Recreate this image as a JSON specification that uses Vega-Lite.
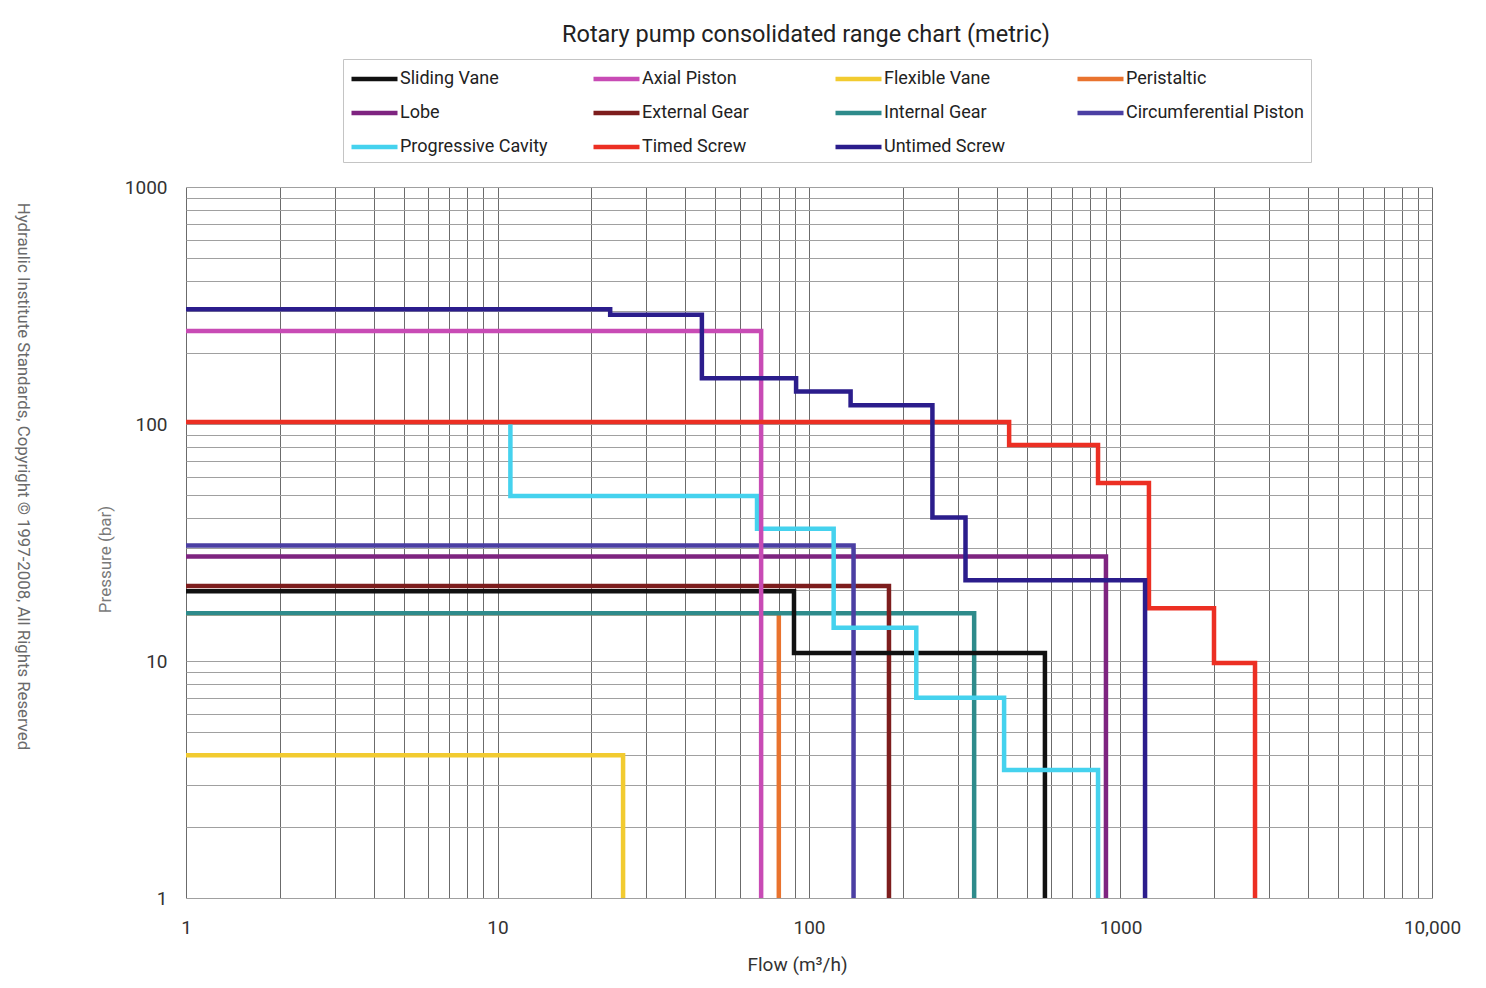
{
  "$schema": "https://vega.github.io/schema/vega-lite/v6.json",
  "width": 1246,
  "height": 711,
  "autosize": {"type": "none"},
  "padding": {"left": 186, "top": 187, "right": 54, "bottom": 90},
  "background": "white",
  "title": {
    "text": "Rotary pump consolidated range chart (metric)",
    "font": "Roboto",
    "fontSize": 23.5,
    "fontWeight": "normal",
    "color": "#222222",
    "anchor": "middle",
    "frame": "group",
    "offset": 12,
    "dx": -3
  },
  "data": {
    "values": [
      {"pump": "Peristaltic", "i": 0, "flow": 1, "pressure": 15.9},
      {"pump": "Peristaltic", "i": 1, "flow": 80, "pressure": 15.9},
      {"pump": "Peristaltic", "i": 2, "flow": 80, "pressure": 1},
      {"pump": "Flexible Vane", "i": 0, "flow": 1, "pressure": 4.0},
      {"pump": "Flexible Vane", "i": 1, "flow": 25.3, "pressure": 4.0},
      {"pump": "Flexible Vane", "i": 2, "flow": 25.3, "pressure": 1},
      {"pump": "Internal Gear", "i": 0, "flow": 1, "pressure": 15.9},
      {"pump": "Internal Gear", "i": 1, "flow": 339, "pressure": 15.9},
      {"pump": "Internal Gear", "i": 2, "flow": 339, "pressure": 1},
      {"pump": "External Gear", "i": 0, "flow": 1, "pressure": 20.7},
      {"pump": "External Gear", "i": 1, "flow": 180.6, "pressure": 20.7},
      {"pump": "External Gear", "i": 2, "flow": 180.6, "pressure": 1},
      {"pump": "Sliding Vane", "i": 0, "flow": 1, "pressure": 19.7},
      {"pump": "Sliding Vane", "i": 1, "flow": 89.5, "pressure": 19.7},
      {"pump": "Sliding Vane", "i": 2, "flow": 89.5, "pressure": 10.8},
      {"pump": "Sliding Vane", "i": 3, "flow": 572, "pressure": 10.8},
      {"pump": "Sliding Vane", "i": 4, "flow": 572, "pressure": 1},
      {"pump": "Lobe", "i": 0, "flow": 1, "pressure": 27.6},
      {"pump": "Lobe", "i": 1, "flow": 898, "pressure": 27.6},
      {"pump": "Lobe", "i": 2, "flow": 898, "pressure": 1},
      {"pump": "Circumferential Piston", "i": 0, "flow": 1, "pressure": 30.7},
      {"pump": "Circumferential Piston", "i": 1, "flow": 139, "pressure": 30.7},
      {"pump": "Circumferential Piston", "i": 2, "flow": 139, "pressure": 1},
      {"pump": "Progressive Cavity", "i": 0, "flow": 11, "pressure": 100},
      {"pump": "Progressive Cavity", "i": 1, "flow": 11, "pressure": 49.7},
      {"pump": "Progressive Cavity", "i": 2, "flow": 68.1, "pressure": 49.7},
      {"pump": "Progressive Cavity", "i": 3, "flow": 68.1, "pressure": 36.1},
      {"pump": "Progressive Cavity", "i": 4, "flow": 120, "pressure": 36.1},
      {"pump": "Progressive Cavity", "i": 5, "flow": 120, "pressure": 13.8},
      {"pump": "Progressive Cavity", "i": 6, "flow": 221, "pressure": 13.8},
      {"pump": "Progressive Cavity", "i": 7, "flow": 221, "pressure": 7.0},
      {"pump": "Progressive Cavity", "i": 8, "flow": 423, "pressure": 7.0},
      {"pump": "Progressive Cavity", "i": 9, "flow": 423, "pressure": 3.47},
      {"pump": "Progressive Cavity", "i": 10, "flow": 847, "pressure": 3.47},
      {"pump": "Progressive Cavity", "i": 11, "flow": 847, "pressure": 1},
      {"pump": "Axial Piston", "i": 0, "flow": 1, "pressure": 247},
      {"pump": "Axial Piston", "i": 1, "flow": 70.2, "pressure": 247},
      {"pump": "Axial Piston", "i": 2, "flow": 70.2, "pressure": 1},
      {"pump": "Timed Screw", "i": 0, "flow": 1, "pressure": 102},
      {"pump": "Timed Screw", "i": 1, "flow": 439, "pressure": 102},
      {"pump": "Timed Screw", "i": 2, "flow": 439, "pressure": 81.5},
      {"pump": "Timed Screw", "i": 3, "flow": 847, "pressure": 81.5},
      {"pump": "Timed Screw", "i": 4, "flow": 847, "pressure": 56.4},
      {"pump": "Timed Screw", "i": 5, "flow": 1234, "pressure": 56.4},
      {"pump": "Timed Screw", "i": 6, "flow": 1234, "pressure": 16.7},
      {"pump": "Timed Screw", "i": 7, "flow": 1996, "pressure": 16.7},
      {"pump": "Timed Screw", "i": 8, "flow": 1996, "pressure": 9.8},
      {"pump": "Timed Screw", "i": 9, "flow": 2703, "pressure": 9.8},
      {"pump": "Timed Screw", "i": 10, "flow": 2703, "pressure": 1},
      {"pump": "Untimed Screw", "i": 0, "flow": 1, "pressure": 305},
      {"pump": "Untimed Screw", "i": 1, "flow": 23, "pressure": 305},
      {"pump": "Untimed Screw", "i": 2, "flow": 23, "pressure": 289},
      {"pump": "Untimed Screw", "i": 3, "flow": 45.3, "pressure": 289},
      {"pump": "Untimed Screw", "i": 4, "flow": 45.3, "pressure": 156},
      {"pump": "Untimed Screw", "i": 5, "flow": 90.9, "pressure": 156},
      {"pump": "Untimed Screw", "i": 6, "flow": 90.9, "pressure": 137},
      {"pump": "Untimed Screw", "i": 7, "flow": 136, "pressure": 137},
      {"pump": "Untimed Screw", "i": 8, "flow": 136, "pressure": 120},
      {"pump": "Untimed Screw", "i": 9, "flow": 249, "pressure": 120},
      {"pump": "Untimed Screw", "i": 10, "flow": 249, "pressure": 40.3},
      {"pump": "Untimed Screw", "i": 11, "flow": 318, "pressure": 40.3},
      {"pump": "Untimed Screw", "i": 12, "flow": 318, "pressure": 21.9},
      {"pump": "Untimed Screw", "i": 13, "flow": 1199, "pressure": 21.9},
      {"pump": "Untimed Screw", "i": 14, "flow": 1199, "pressure": 1}
    ]
  },
  "encoding": {
    "x": {
      "field": "flow", "type": "quantitative",
      "scale": {"type": "log", "domain": [1, 10000]},
      "axis": {
        "title": "Flow (m³/h)",
        "titleFont": "Roboto",
        "titleFontSize": 19,
        "titleFontWeight": "normal",
        "titleColor": "#333333",
        "titlePadding": 18,
        "titleX": 611,
        "titleAlign": "center",
        "values": [1,2,3,4,5,6,7,8,9,10,20,30,40,50,60,70,80,90,100,200,300,400,500,600,700,800,900,1000,2000,3000,4000,5000,6000,7000,8000,9000,10000],
        "labelExpr": "datum.value == 1 ? '1' : datum.value == 10 ? '10' : datum.value == 100 ? '100' : datum.value == 1000 ? '1000' : datum.value == 10000 ? '10,000' : ''",
        "labelFont": "Roboto",
        "labelFontSize": 19,
        "labelColor": "#333333",
        "labelPadding": 20,
        "labelFlush": false,
        "labelOverlap": false,
        "ticks": false,
        "domain": false,
        "grid": true,
        "gridColor": "#5a5a5a",
        "gridWidth": 0.9
      }
    },
    "order": {"field": "i", "type": "quantitative"}
  },
  "layer": [
    {
      "mark": {"type": "line", "opacity": 0},
      "encoding": {
        "y": {
          "field": "pressure", "type": "quantitative",
          "scale": {"type": "log", "domain": [1, 1000]},
          "axis": {
            "orient": "left",
            "title": "Hydraulic Institute Standards, Copyright © 1997-2008, All Rights Reserved",
            "titleAngle": 90,
            "titleX": -164,
            "titleY": 289,
            "titleAlign": "center",
            "titleBaseline": "middle",
            "titleFont": "Roboto",
            "titleFontSize": 16.8,
            "titleFontWeight": "normal",
            "titleColor": "#6a6a6a",
            "labels": false,
            "ticks": false,
            "domain": false,
            "grid": false
          }
        },
        "detail": {"field": "pump", "type": "nominal"}
      }
    },
    {
      "mark": {"type": "line", "strokeCap": "butt", "strokeJoin": "miter", "clip": true},
      "encoding": {
        "y": {
          "field": "pressure", "type": "quantitative",
          "scale": {"type": "log", "domain": [1, 1000]},
          "axis": {
            "orient": "left",
            "title": "Pressure (bar)",
            "titleFont": "Roboto",
            "titleFontSize": 17,
            "titleFontWeight": "normal",
            "titleColor": "#7a7a7a",
            "titleAngle": -90,
            "titleAlign": "center",
            "titleBaseline": "middle",
            "titleX": -81,
            "titleY": 372,
            "values": [1,2,3,4,5,6,7,8,9,10,20,30,40,50,60,70,80,90,100,200,300,400,500,600,700,800,900,1000],
            "labelExpr": "datum.value == 1 ? '1' : datum.value == 10 ? '10' : datum.value == 100 ? '100' : datum.value == 1000 ? '1000' : ''",
            "labelFont": "Roboto",
            "labelFontSize": 19,
            "labelColor": "#333333",
            "labelPadding": 19,
            "labelFlush": false,
            "labelOverlap": false,
            "ticks": false,
            "domain": false,
            "grid": true,
            "gridColor": "#a0a0a0",
            "gridWidth": 1
          }
        },
        "color": {
          "field": "pump", "type": "nominal",
          "scale": {
            "domain": ["Sliding Vane", "Axial Piston", "Flexible Vane", "Peristaltic", "Lobe", "External Gear", "Internal Gear", "Circumferential Piston", "Progressive Cavity", "Timed Screw", "Untimed Screw"],
            "range": ["#111111", "#c84bb5", "#f2cb30", "#e9732e", "#7e2480", "#7d1d1d", "#2e8b8b", "#4b3fa3", "#45d2ee", "#ec2f23", "#2b1d8c"]
          },
          "legend": {
            "orient": "none",
            "legendX": 157,
            "legendY": -128,
            "columns": 4,
            "direction": "horizontal",
            "title": null,
            "symbolType": "M-1,0H3",
            "symbolSize": 529,
            "symbolStrokeWidth": 5,
            "labelFont": "Roboto",
            "labelFontSize": 18,
            "labelColor": "#222222",
            "labelOffset": 23,
            "labelLimit": 400,
            "rowPadding": 11,
            "columnPadding": 5,
            "padding": 6,
            "gridAlign": "all",
            "fillColor": "white",
            "strokeColor": "#c4c4c4"
          }
        },
        "strokeWidth": {
          "field": "pump", "type": "nominal",
          "scale": {
            "domain": ["Sliding Vane", "Axial Piston", "Flexible Vane", "Peristaltic", "Lobe", "External Gear", "Internal Gear", "Circumferential Piston", "Progressive Cavity", "Timed Screw", "Untimed Screw"],
            "range": [4.5, 4.5, 4, 4, 3.5, 4.5, 3.5, 4, 4.5, 5, 5.5]
          },
          "legend": null
        }
      }
    }
  ],
  "resolve": {"axis": {"y": "independent"}},
  "config": {
    "view": {"stroke": null},
    "font": "Roboto"
  }
}
